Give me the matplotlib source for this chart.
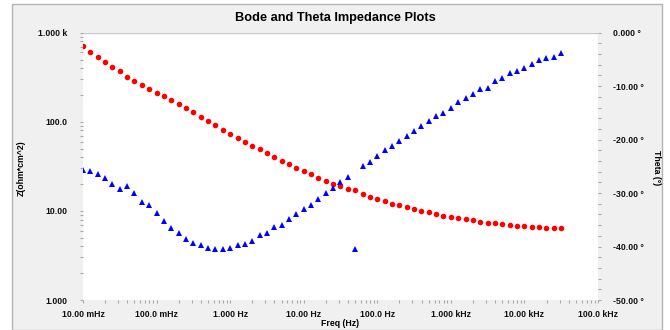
"""Bode |Z| and phase angle plot on shared log frequency axis."""

from __future__ import annotations

import matplotlib

matplotlib.use("Agg")
import matplotlib.pyplot as plt
from matplotlib.patches import Rectangle
from matplotlib.ticker import FixedLocator, NullFormatter
import numpy as np

FIGSIZE = (6.7, 3.3)
DPI = 100
PANEL_COLOR = "#f0f0f0"
TICK_COLOR = "#a8a8a8"
FONT = "Liberation Sans"

FREQ_HZ = [
    0.0100, 0.0126, 0.0158, 0.0200, 0.0251, 0.0316, 0.0398, 0.0501, 0.0631, 0.0794,
    0.100, 0.126, 0.158, 0.200, 0.251, 0.316, 0.398, 0.501, 0.631, 0.794,
    1.00, 1.26, 1.58, 2.00, 2.51, 3.16, 3.98, 5.01, 6.31, 7.94,
    10.0, 12.6, 15.8, 20.0, 25.1, 31.6, 39.8, 50.1, 63.1, 79.4,
    100, 126, 158, 200, 251, 316, 398, 501, 631, 794,
    1000, 1259, 1585, 1995, 2512, 3162, 3981, 5012, 6310, 7943,
    10000, 12590, 15850, 19950, 25120, 31620,
]
Z_MOD = [
    714, 607, 530, 466, 415, 369, 318, 289, 261, 235,
    212, 195, 174, 158, 143, 129, 114, 103, 92.0, 81.5,
    73.5, 66.3, 59.8, 54.2, 49.1, 44.3, 40.3, 36.3, 33.3, 30.1,
    27.8, 25.7, 23.4, 21.5, 20.0, 18.9, 17.8, 17.2, 15.3, 14.4,
    13.6, 12.8, 12.1, 11.5, 11.0, 10.6, 10.1, 9.75, 9.16, 8.83,
    8.54, 8.32, 8.05, 7.90, 7.50, 7.31, 7.26, 7.08, 6.95, 6.77,
    6.77, 6.65, 6.55, 6.38, 6.38, 6.38,
]
THETA_DEG = [
    -25.7, -25.9, -26.4, -27.1, -28.3, -29.2, -28.6, -30.0, -31.7, -32.3,
    -33.7, -35.2, -36.5, -37.5, -38.5, -39.3, -39.8, -40.2, -40.4, -40.4,
    -40.3, -39.8, -39.5, -38.9, -37.9, -37.5, -36.4, -35.9, -34.9, -34.0,
    -33.0, -32.2, -31.2, -29.9, -29.1, -28.0, -27.0, -40.5, -24.9, -24.1,
    -23.0, -21.9, -21.1, -20.2, -19.3, -18.4, -17.5, -16.6, -15.5, -15.0,
    -14.0, -13.0, -12.3, -11.5, -10.6, -10.3, -9.0, -8.5, -7.6, -7.1,
    -6.6, -5.9, -5.2, -4.7, -4.5, -3.8,
]

X_TICKS = [0.01, 0.1, 1, 10, 100, 1000, 10000, 100000]
X_TICK_LABELS = ["10.00 mHz", "100.0 mHz", "1.000 Hz", "10.00 Hz",
                 "100.0 Hz", "1.000 kHz", "10.00 kHz", "100.0 kHz"]
Z_TICKS = [1, 10, 100, 1000]
Z_TICK_LABELS = ["1.000", "10.00", "100.0", "1.000 k"]
THETA_TICKS = [-50, -40, -30, -20, -10, 0]
THETA_TICK_LABELS = ["-50.00 °", "-40.00 °", "-30.00 °", "-20.00 °", "-10.00 °", "0.000 °"]


def style_ticks(axis) -> None:
    for spine in axis.spines.values():
        spine.set_visible(False)
    axis.tick_params(which="both", direction="out", color=TICK_COLOR, width=0.8,
                     labelsize=6.3, labelcolor="#111111")
    axis.tick_params(which="major", length=2.5)
    axis.tick_params(which="minor", length=2.0)


def main() -> None:
    plt.rcParams["font.family"] = [FONT, "DejaVu Sans"]
    plt.rcParams["font.weight"] = "bold"
    fig = plt.figure(figsize=FIGSIZE, dpi=DPI, facecolor="white")
    fig.patches.append(Rectangle((12 / 670, 0), 650 / 670, 326 / 330, transform=fig.transFigure,
                                 facecolor=PANEL_COLOR, edgecolor="#b4b4b4", linewidth=1.0,
                                 zorder=-10))

    axis = fig.add_axes([83 / 670, 1 - 300 / 330, 515 / 670, 267.3 / 330])
    axis.set_facecolor("white")
    axis.plot(FREQ_HZ, Z_MOD, linestyle="none", marker="o", markersize=4.0,
              color="#ff0000", markeredgewidth=0)
    axis.set_xscale("log")
    axis.set_yscale("log")
    axis.set_xlim(0.01, 100000)
    axis.set_ylim(1, 1000)
    axis.set_xticks(X_TICKS, X_TICK_LABELS)
    axis.set_yticks(Z_TICKS, Z_TICK_LABELS)
    axis.xaxis.set_minor_locator(FixedLocator(
        [m * d for d in X_TICKS[:-1] for m in range(2, 10)]))
    axis.yaxis.set_minor_locator(FixedLocator(
        [m * d for d in Z_TICKS[:-1] for m in range(2, 10)]))
    axis.xaxis.set_minor_formatter(NullFormatter())
    axis.yaxis.set_minor_formatter(NullFormatter())
    style_ticks(axis)
    axis.tick_params(axis="y", pad=8.5)
    axis.tick_params(axis="x", pad=5)
    axis.axhline(1000, color="#c8c8c8", linewidth=1.0, zorder=0)

    theta_axis = axis.twinx()
    theta_axis.plot(FREQ_HZ, THETA_DEG, linestyle="none", marker="^", markersize=4.0,
                    color="#0000ff", markeredgewidth=0)
    theta_axis.set_ylim(-50, 0)
    theta_axis.set_yticks(THETA_TICKS, THETA_TICK_LABELS)
    theta_axis.yaxis.set_minor_locator(FixedLocator(np.arange(-48, 0, 2)))
    style_ticks(theta_axis)
    theta_axis.tick_params(axis="y", pad=8.5)

    fig.text(335 / 670, 1 - 18 / 330, "Bode and Theta Impedance Plots", ha="center",
             va="center", fontsize=9.2, fontweight="bold")
    fig.text(340 / 670, 1 - 324 / 330, "Freq (Hz)", ha="center", va="center",
             fontsize=6.3, fontweight="bold")
    fig.text(21 / 670, 1 - 168 / 330, "Z(ohm*cm^2)", ha="center", va="center",
             rotation=90, fontsize=6.3, fontweight="bold")
    fig.text(657 / 670, 1 - 168 / 330, "Theta (°)", ha="center", va="center",
             rotation=270, fontsize=6.3, fontweight="bold")

    fig.savefig("out.png", dpi=DPI, facecolor="white")
    plt.close(fig)


if __name__ == "__main__":
    main()
